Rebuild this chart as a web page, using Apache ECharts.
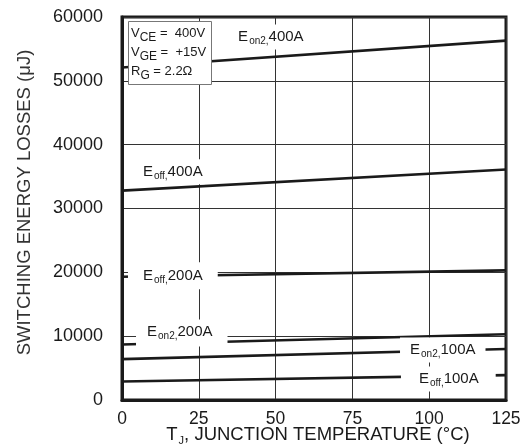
<!DOCTYPE html>
<html>
<head>
<meta charset="utf-8">
<script src="https://cdn.jsdelivr.net/npm/echarts@6/dist/echarts.min.js"></script>
<style>
  html, body { margin: 0; padding: 0; background: #fff; }
  #chart { width: 526px; height: 447px; }
</style>
</head>
<body>
<div id="chart"></div>
<script>
// Junction temperature (°C) at which each curve is given
const temps = [0, 125];

// Switching energy losses (µJ)
const eon2_400A = [52100, 56300];
const eoff_400A = [32800, 36100];
const eoff_200A = [19300, 20300];
const eon2_200A = [8700, 10300];
const eon2_100A = [6400, 8000];
const eoff_100A = [2900, 3900];

// Axis ticks
const xTicks = [0, 25, 50, 75, 100, 125];
const yTicks = [0, 10000, 20000, 30000, 40000, 50000, 60000];

const FONT = '"Liberation Sans", Arial, sans-serif';
const INK = '#1a1a1a';

const curves = [
  { name: 'Eon2 400A', values: eon2_400A, sub: 'on2,', text: '400A',
    at: [37.8, 56870], pad: [3, 2, 3, 0] },
  { name: 'Eoff 400A', values: eoff_400A, sub: 'off,', text: '400A',
    at: [6.8, 35760], pad: [3, 2, 3, 0] },
  { name: 'Eoff 200A', values: eoff_200A, sub: 'off,', text: '200A',
    at: [1.95, 19470], pad: [4, 15, 4, 15] },
  { name: 'Eon2 200A', values: eon2_200A, sub: 'on2,', text: '200A',
    at: [4.56, 10500], pad: [3, 15, 5, 11] },
  { name: 'Eon2 100A', values: eon2_100A, sub: 'on2,', text: '100A',
    at: [90.5, 7830], pad: [3, 10, 3, 10] },
  { name: 'Eoff 100A', values: eoff_100A, sub: 'off,', text: '100A',
    at: [90.8, 3290], pad: [3, 17, 3, 18] }
];

const richLabel = {
  m: { fontFamily: FONT, fontSize: 15, color: INK },
  s: { fontFamily: FONT, fontSize: 10, color: INK, padding: [9, 0, 0, 1] }
};

const lineSeries = curves.map(c => ({
  name: c.name,
  type: 'line',
  data: temps.map((t, i) => [t, c.values[i]]),
  showSymbol: false,
  silent: true,
  z: 3,
  lineStyle: { color: INK, width: 2.6 }
}));

// Curve names sit on white patches that break the lines and grid beneath them
const labelSeries = {
  type: 'scatter',
  symbolSize: 0,
  silent: true,
  zlevel: 1,
  z: 5,
  data: curves.map(c => ({
    value: c.at,
    label: {
      show: true,
      position: 'right',
      distance: 0,
      opacity: 1,
      backgroundColor: '#ffffff',
      padding: c.pad,
      formatter: '{m|E}{s|' + c.sub + '}{m|' + c.text + '}',
      rich: richLabel
    }
  }))
};

const chart = echarts.init(document.getElementById('chart'), null, { renderer: 'canvas' });
chart.setOption({
  animation: false,
  backgroundColor: '#fff',
  title: {
    left: 128,
    top: 22,
    padding: [2, 6, 3, 3],
    backgroundColor: '#fff',
    borderColor: '#777',
    borderWidth: 1,
    zlevel: 1,
    z: 10,
    text: '{m|V}{s|CE}{m| =  400V}\n{m|V}{s|GE}{m| =  +15V}\n{m|R}{s|G}{m| = 2.2Ω}',
    textStyle: {
      fontWeight: 'normal',
      rich: {
        m: { fontFamily: FONT, fontSize: 13, fontWeight: 'normal', color: INK, lineHeight: 19 },
        s: { fontFamily: FONT, fontSize: 12, fontWeight: 'normal', color: INK, lineHeight: 19, padding: [8, 0, 0, 0] }
      }
    }
  },
  grid: {
    left: 122, right: 20, top: 17, bottom: 47,
    outerBoundsMode: 'none',
    containLabel: false,
    show: true,
    borderColor: INK,
    borderWidth: 3,
    backgroundColor: 'transparent'
  },
  xAxis: {
    type: 'value',
    min: xTicks[0],
    max: xTicks[xTicks.length - 1],
    interval: 25,
    name: '{m|T}{s|J}{m|, JUNCTION TEMPERATURE (°C)}',
    nameLocation: 'middle',
    nameGap: 23,
    nameMoveOverlap: false,
    nameTextStyle: {
      padding: [0, 0, 0, 8],
      rich: {
        m: { fontFamily: FONT, fontSize: 18.5, color: INK },
        s: { fontFamily: FONT, fontSize: 11, color: INK, padding: [12, 0, 0, 1] }
      }
    },
    axisLine: { show: true, lineStyle: { color: INK, width: 3 } },
    axisTick: { show: false },
    axisLabel: { fontFamily: FONT, fontSize: 17.5, color: INK, margin: 10 },
    splitLine: { show: true, lineStyle: { color: '#333', width: 1 } }
  },
  yAxis: {
    type: 'value',
    min: yTicks[0],
    max: yTicks[yTicks.length - 1],
    interval: 10000,
    name: 'SWITCHING ENERGY LOSSES (μJ)',
    nameLocation: 'middle',
    nameGap: 88,
    nameMoveOverlap: false,
    nameTextStyle: { fontFamily: FONT, fontSize: 18.5, color: '#333', padding: [0, 0, 0, 12] },
    axisLine: { show: true, lineStyle: { color: INK, width: 3 } },
    axisTick: { show: false },
    axisLabel: {
      fontFamily: FONT, fontSize: 18, color: INK, margin: 19,
      formatter: v => String(v)
    },
    splitLine: { show: true, lineStyle: { color: '#333', width: 1 } }
  },
  series: [...lineSeries, labelSeries]
});
</script>
</body>
</html>
